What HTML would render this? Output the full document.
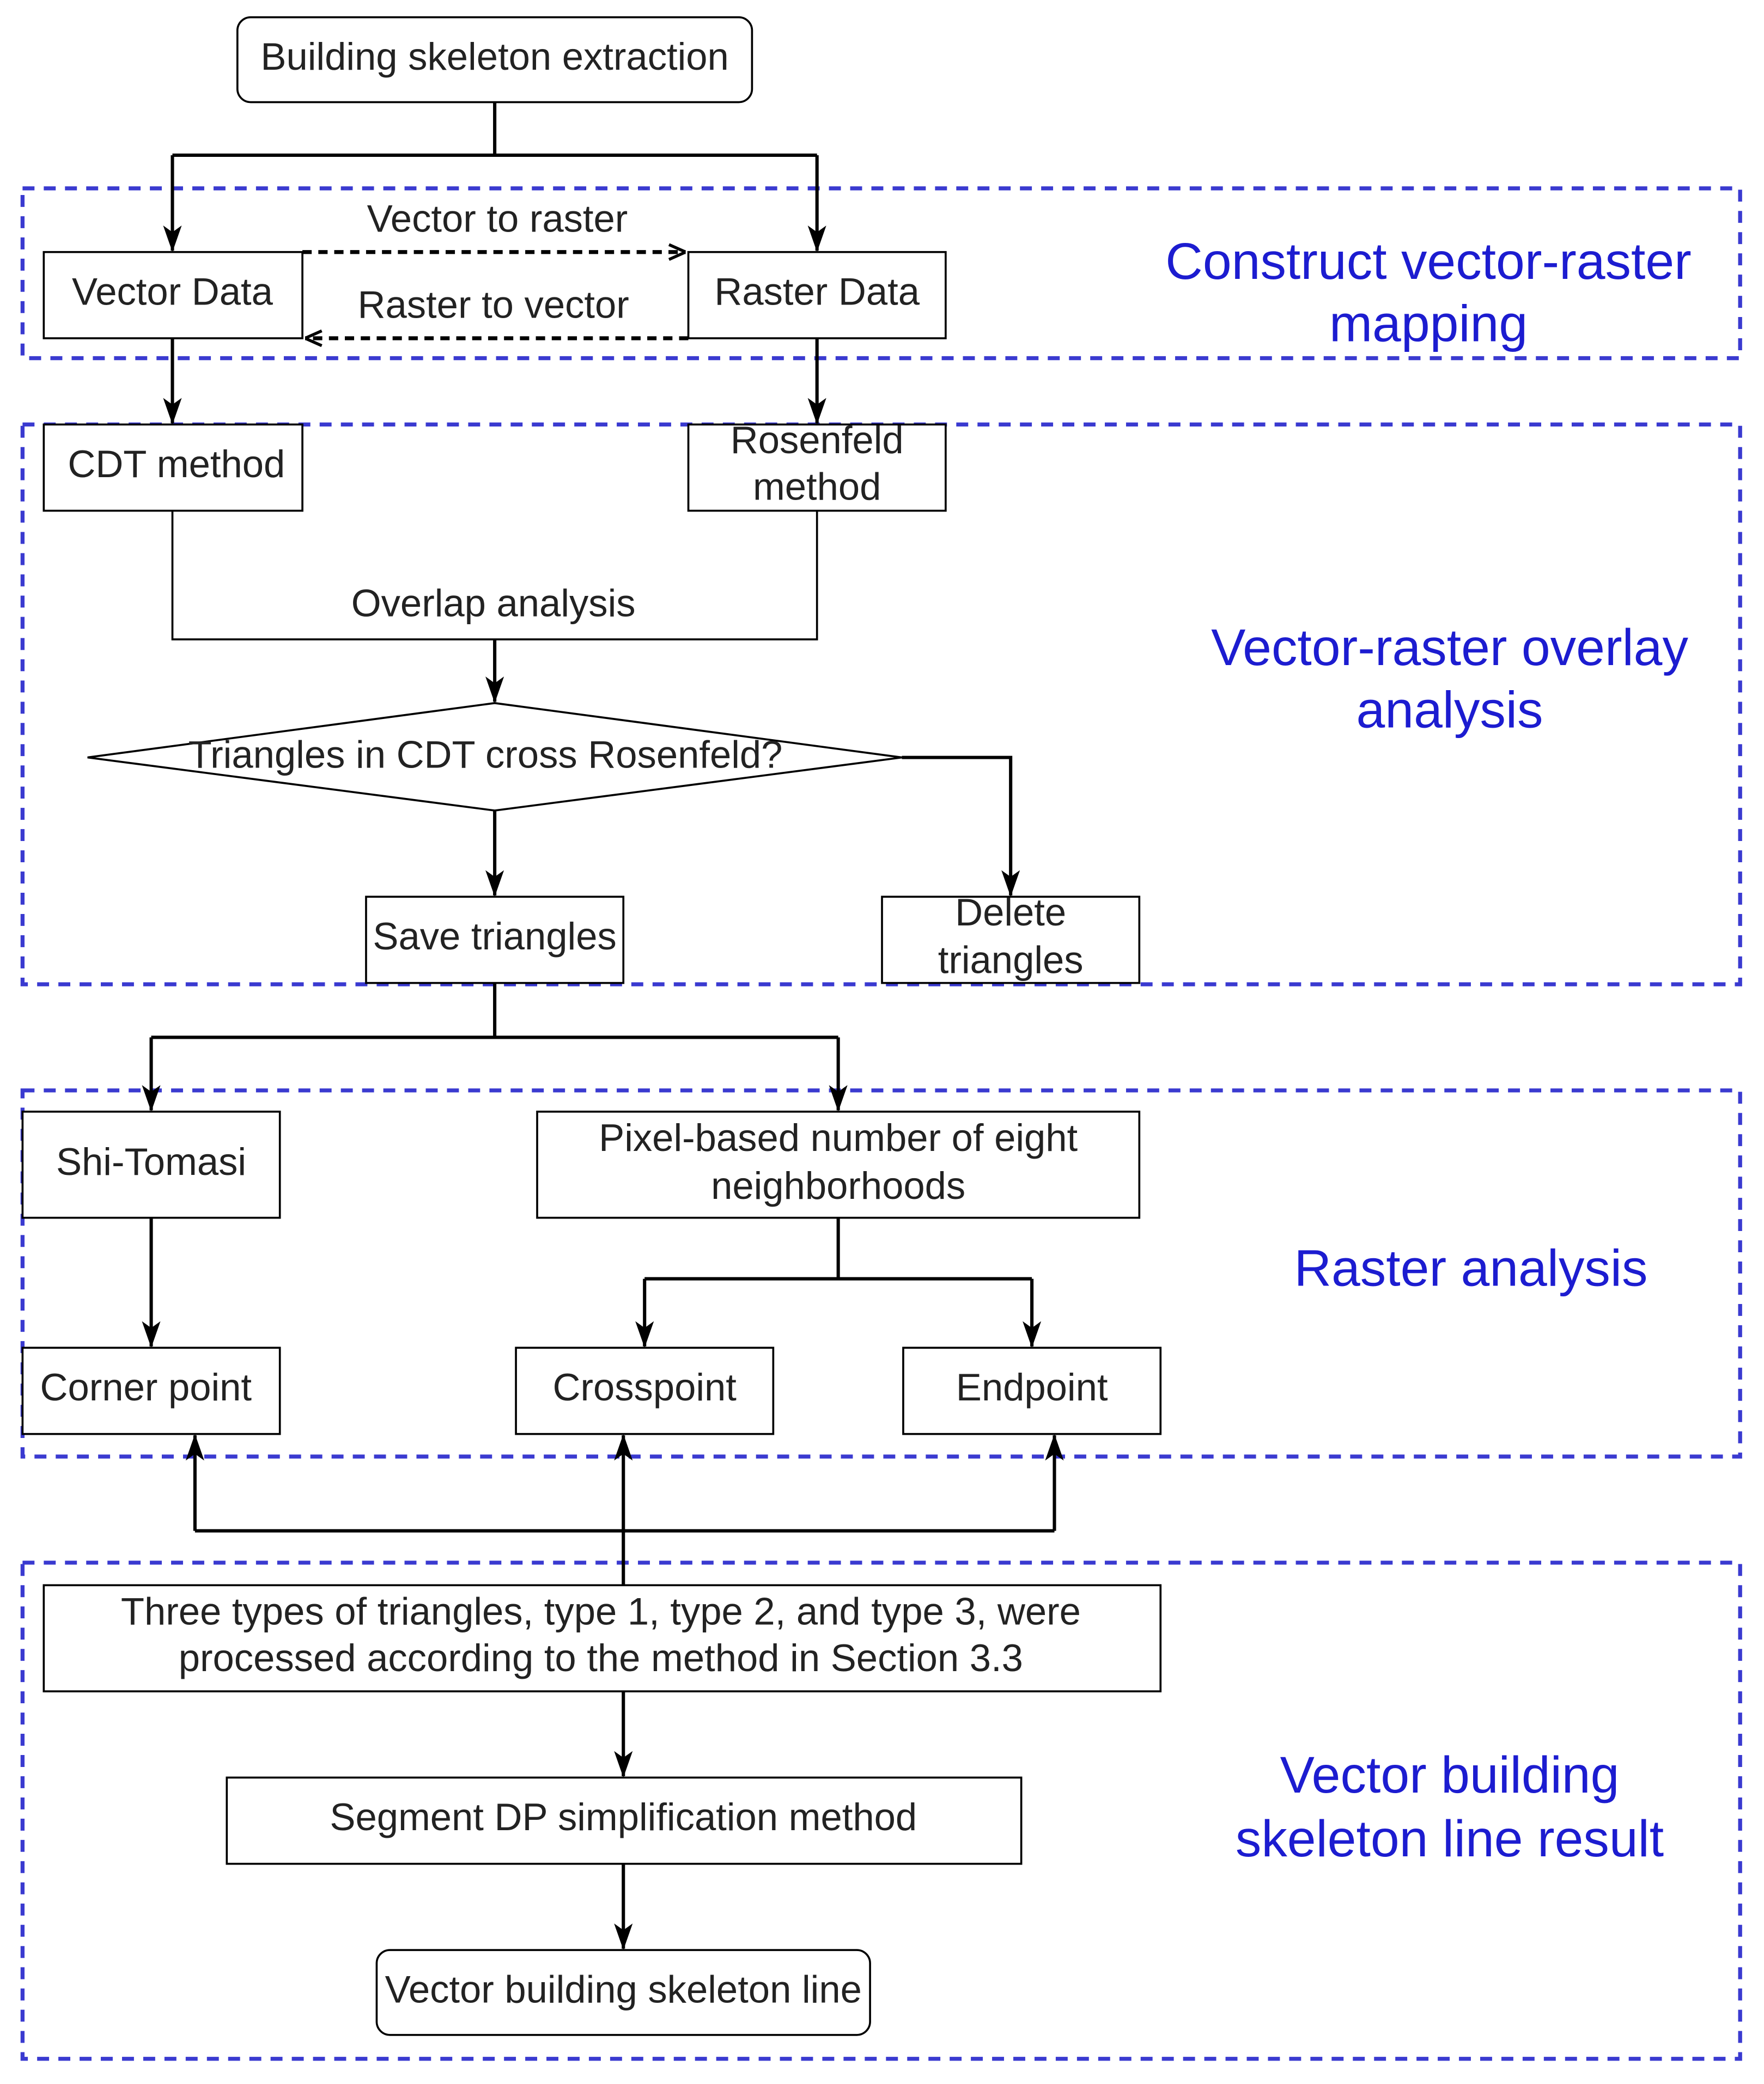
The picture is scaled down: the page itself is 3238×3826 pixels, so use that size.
<!DOCTYPE html>
<html><head><style>html,body{margin:0;padding:0;background:#fff}svg{display:block}</style></head><body>
<svg width="3238" height="3826" viewBox="0 0 1330 1571" preserveAspectRatio="none" xmlns="http://www.w3.org/2000/svg">
<defs>
<marker id="a" viewBox="0 0 20 14" refX="19" refY="7" markerWidth="20" markerHeight="14" orient="auto" markerUnits="userSpaceOnUse"><path d="M0,0 L20,7 L0,14 L5,7 Z" fill="#000"/></marker>
<marker id="o" viewBox="0 0 10 10" refX="10" refY="5" markerWidth="14" markerHeight="14" orient="auto" markerUnits="userSpaceOnUse"><path d="M1,1 L10,5 L1,9" fill="none" stroke="#000" stroke-width="1.6"/></marker>
</defs>
<style>
.b{fill:#fff;stroke:#000;stroke-width:1.5}
.l{fill:none;stroke:#000;stroke-width:2.5}
.r{fill:none;stroke:#3a3ad0;stroke-width:3;stroke-dasharray:9 7}
text{font-family:"Liberation Sans",sans-serif;font-size:29px;fill:#222;text-anchor:middle;dominant-baseline:middle}
.t{font-size:39px;fill:#1c1cd0}
</style>
<rect class="r" x="17" y="142" width="1295" height="128"/>
<rect class="r" x="17" y="320" width="1295" height="422"/>
<rect class="r" x="17" y="822" width="1295" height="276"/>
<rect class="r" x="17" y="1178" width="1295" height="374"/>

<rect class="b" x="179" y="13" width="388" height="64" rx="10"/>
<text x="373" y="45">Building skeleton extraction</text>
<path class="l" d="M373,77V117M130,117H616"/>
<path class="l" d="M130,117V189" style="marker-end:url(#a)"/>
<path class="l" d="M616,117V189" style="marker-end:url(#a)"/>
<rect class="b" x="33" y="190" width="195" height="65"/><text x="130" y="222">Vector Data</text>
<rect class="b" x="519" y="190" width="194" height="65"/><text x="616" y="222">Raster Data</text>
<path d="M228,190H517" fill="none" stroke="#000" stroke-width="3" stroke-dasharray="7 5" marker-end="url(#o)"/>
<path d="M519,255H230" fill="none" stroke="#000" stroke-width="3" stroke-dasharray="7 5" marker-end="url(#o)"/>
<text x="375" y="167">Vector to raster</text>
<text x="372" y="232">Raster to vector</text>
<text class="t" x="1077" y="200">Construct vector-raster</text>
<text class="t" x="1077" y="247">mapping</text>
<path class="l" d="M130,255V319" style="marker-end:url(#a)"/>
<path class="l" d="M616,255V319" style="marker-end:url(#a)"/>

<rect class="b" x="33" y="320" width="195" height="65"/><text x="133" y="352">CDT method</text>
<rect class="b" x="519" y="320" width="194" height="65"/><text x="616" y="334">Rosenfeld</text><text x="616" y="369">method</text>
<path d="M130,385V482H616V385" fill="none" stroke="#000" stroke-width="1.5"/>
<text x="372" y="457">Overlap analysis</text>
<path class="l" d="M373,482V529" style="marker-end:url(#a)"/>
<polygon class="b" points="66,571 373,530 680,571 373,611"/>
<text x="366" y="571">Triangles in CDT cross Rosenfeld?</text>
<path class="l" d="M373,611V675" style="marker-end:url(#a)"/>
<path class="l" d="M680,571H762V675" style="marker-end:url(#a)"/>
<rect class="b" x="276" y="676" width="194" height="65"/><text x="373" y="708">Save triangles</text>
<rect class="b" x="665" y="676" width="194" height="65"/><text x="762" y="690">Delete</text><text x="762" y="726">triangles</text>
<text class="t" x="1093" y="491">Vector-raster overlay</text>
<text class="t" x="1093" y="538">analysis</text>

<path class="l" d="M373,741V782M114,782H632"/>
<path class="l" d="M114,782V837" style="marker-end:url(#a)"/>
<path class="l" d="M632,782V837" style="marker-end:url(#a)"/>
<rect class="b" x="17" y="838" width="194" height="80"/><text x="114" y="878">Shi-Tomasi</text>
<rect class="b" x="405" y="838" width="454" height="80"/><text x="632" y="860">Pixel-based number of eight</text><text x="632" y="896">neighborhoods</text>
<path class="l" d="M114,918V1015" style="marker-end:url(#a)"/>
<path class="l" d="M632,918V964M486,964H778"/>
<path class="l" d="M486,964V1015" style="marker-end:url(#a)"/>
<path class="l" d="M778,964V1015" style="marker-end:url(#a)"/>
<rect class="b" x="17" y="1016" width="194" height="65"/><text x="110" y="1048">Corner point</text>
<rect class="b" x="389" y="1016" width="194" height="65"/><text x="486" y="1048">Crosspoint</text>
<rect class="b" x="681" y="1016" width="194" height="65"/><text x="778" y="1048">Endpoint</text>
<text class="t" x="1109" y="959">Raster analysis</text>

<path class="l" d="M470,1195V1082" style="marker-end:url(#a)"/>
<path class="l" d="M147,1154H795"/>
<path class="l" d="M147,1154V1082" style="marker-end:url(#a)"/>
<path class="l" d="M795,1154V1082" style="marker-end:url(#a)"/>
<rect class="b" x="33" y="1195" width="842" height="80"/>
<text x="453" y="1217">Three types of triangles, type 1, type 2, and type 3, were</text>
<text x="453" y="1252">processed according to the method in Section 3.3</text>
<path class="l" d="M470,1275V1339" style="marker-end:url(#a)"/>
<rect class="b" x="171" y="1340" width="599" height="65"/><text x="470" y="1372">Segment DP simplification method</text>
<path class="l" d="M470,1405V1469" style="marker-end:url(#a)"/>
<rect class="b" x="284" y="1470" width="372" height="64" rx="10"/><text x="470" y="1502">Vector building skeleton line</text>
<text class="t" x="1093" y="1341">Vector building</text>
<text class="t" x="1093" y="1389">skeleton line result</text>
</svg>
</body></html>
